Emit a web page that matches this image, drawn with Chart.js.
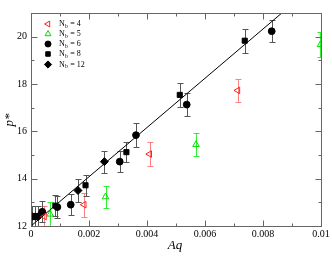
<!DOCTYPE html>
<html><head><meta charset="utf-8">
<script src="https://cdn.jsdelivr.net/npm/chart.js@4/dist/chart.umd.min.js"></script>
<style>html,body{margin:0;padding:0;background:#fff;}#wrap{width:332px;height:257px;}</style>
</head><body><div id="wrap"><canvas id="c" width="332" height="257"></canvas></div>
<script>
// ---- data ----
const nbLabels = ["4", "5", "6", "8", "12"];
const aq4 = [0.00046, 0.00183, 0.00409, 0.00713];
const p4  = [12.4, 12.9, 15.04, 17.73];
const e4  = [0.45, 0.5, 0.5, 0.49];
const aq5 = [0.00066, 0.00257, 0.00569, 0.00998];
const p5  = [12.5, 13.23, 15.44, 19.66];
const e5  = [0.5, 0.48, 0.5, 0.54];
const aq6 = [0.00005, 0.00015, 0.00039, 0.00091, 0.00137, 0.00306, 0.00362, 0.00537, 0.0083];
const p6  = [12.4, 12.4, 12.6, 12.8, 12.9, 14.72, 15.84, 17.13, 20.23];
const e6  = [0.45, 0.45, 0.45, 0.45, 0.45, 0.45, 0.5, 0.5, 0.47];
const aq8 = [0.00084, 0.00188, 0.00329, 0.00513, 0.00737];
const p8  = [12.86, 13.72, 15.12, 17.54, 19.83];
const e8  = [0.45, 0.45, 0.42, 0.5, 0.5];
const aq12 = [0.00025, 0.00162, 0.00253];
const p12  = [12.4, 13.5, 14.72];
const e12  = [0.45, 0.47, 0.47];
const fitAq = [0, 0.00865];
const fitP  = [12, 21];
const xTicks = [0, 0.002, 0.004, 0.006, 0.008, 0.01];
const yTicks = [12, 14, 16, 18, 20];

const pts = (xs, ys, es) => xs.map((x, i) => ({x: x, y: ys[i], e: es ? es[i] : 0}));

const series = [
  {label: nbLabels[0], data: pts(aq4, p4, e4), pointStyle: 'triangle', rotation: -90, borderColor: '#ff2020', backgroundColor: 'rgba(0,0,0,0)', errColor: '#ff8080', radius: 3.8},
  {label: nbLabels[1], data: pts(aq5, p5, e5), pointStyle: 'triangle', rotation: 0, borderColor: '#00dd00', backgroundColor: 'rgba(0,0,0,0)', errColor: '#33ee33', radius: 3.8},
  {label: nbLabels[2], data: pts(aq6, p6, e6), pointStyle: 'circle', rotation: 0, borderColor: '#000', backgroundColor: '#000', errColor: '#555', radius: 3.4},
  {label: nbLabels[3], data: pts(aq8, p8, e8), pointStyle: 'rect', rotation: 0, borderColor: '#000', backgroundColor: '#000', errColor: '#555', radius: 3.6},
  {label: nbLabels[4], data: pts(aq12, p12, e12), pointStyle: 'rectRot', rotation: 0, borderColor: '#000', backgroundColor: '#000', errColor: '#555', radius: 4}
];

const datasets = [{
  type: 'line', label: 'fit', data: fitAq.map((x, i) => ({x: x, y: fitP[i]})),
  borderColor: '#000', borderWidth: 1, pointRadius: 0, fill: false, order: 10
}].concat(series.map(s => ({
  type: 'scatter', label: s.label, data: s.data,
  pointStyle: s.pointStyle, rotation: s.rotation, pointRadius: s.radius,
  borderColor: s.borderColor, backgroundColor: s.backgroundColor,
  pointBorderWidth: 1, errColor: s.errColor, order: 1
})));

const serif = "'Liberation Serif', 'DejaVu Serif', serif";

const errPlugin = {
  id: 'errbars',
  beforeDatasetsDraw(chart) {
    const ctx = chart.ctx, a = chart.chartArea;
    const xs = chart.scales.x, ys = chart.scales.y;
    ctx.save();
    ctx.beginPath(); ctx.rect(a.left, a.top, a.right - a.left, a.bottom - a.top); ctx.clip();
    chart.data.datasets.forEach(ds => {
      if (!ds.errColor) return;
      ctx.strokeStyle = ds.errColor; ctx.lineWidth = 1;
      ds.data.forEach(p => {
        const px = Math.round(xs.getPixelForValue(p.x)) + 0.5;
        const y1 = Math.round(ys.getPixelForValue(p.y + p.e)) + 0.5;
        const y2 = Math.round(ys.getPixelForValue(p.y - p.e)) + 0.5;
        ctx.beginPath();
        ctx.moveTo(px, y1); ctx.lineTo(px, y2);
        ctx.moveTo(px - 3, y1); ctx.lineTo(px + 3, y1);
        ctx.moveTo(px - 3, y2); ctx.lineTo(px + 3, y2);
        ctx.stroke();
      });
    });
    ctx.restore();
  }
};

const framePlugin = {
  id: 'frame',
  afterDraw(chart) {
    const ctx = chart.ctx, a = chart.chartArea;
    const xs = chart.scales.x, ys = chart.scales.y;
    ctx.save();
    ctx.strokeStyle = '#666'; ctx.lineWidth = 1;
    const L = Math.round(a.left) + 0.5, R = Math.round(a.right) + 0.5, T = Math.round(a.top) + 0.5, B = Math.round(a.bottom) + 0.5;
    ctx.strokeRect(L, T, R - L, B - T);
    ctx.beginPath();
    for (let i = 0; i <= 10; i++) {
      const v = i * 0.001;
      const px = Math.round(xs.getPixelForValue(v)) + 0.5;
      const len = (i % 2 === 0) ? 6 : 3;
      ctx.moveTo(px, B); ctx.lineTo(px, B - len);
      ctx.moveTo(px, T); ctx.lineTo(px, T + len);
    }
    for (let v = 12; v <= 21; v++) {
      const py = Math.round(ys.getPixelForValue(v)) + 0.5;
      const len = (v % 2 === 0) ? 6 : 3;
      ctx.moveTo(L, py); ctx.lineTo(L + len, py);
      ctx.moveTo(R, py); ctx.lineTo(R - len, py);
    }
    ctx.stroke();

    // axis titles
    ctx.fillStyle = '#000';
    ctx.font = "italic 13px " + serif;
    ctx.textAlign = 'center'; ctx.textBaseline = 'alphabetic';
    ctx.fillText('Aq', 175, 249);
    ctx.save();
    ctx.translate(13, 120);
    ctx.rotate(-Math.PI / 2);
    ctx.fillText('p*', 0, 0);
    ctx.restore();

    // legend
    const lx = 48, tx = 59, rows = [24, 34, 44, 54, 64.5];
    series.forEach((s, i) => {
      const y = rows[i];
      ctx.save();
      ctx.strokeStyle = s.borderColor; ctx.fillStyle = s.backgroundColor; ctx.lineWidth = 1;
      Chart.helpers.drawPoint(ctx, {pointStyle: s.pointStyle, rotation: s.rotation, radius: s.radius - 0.4, borderWidth: 1}, lx, y);
      ctx.restore();
      ctx.fillStyle = '#000'; ctx.textAlign = 'left'; ctx.textBaseline = 'middle';
      ctx.font = "8px " + serif;
      ctx.fillText('N', tx, y);
      const w = ctx.measureText('N').width;
      ctx.font = "5.5px " + serif;
      ctx.fillText('b', tx + w + 0.3, y + 2.5);
      const wb = ctx.measureText('b').width;
      ctx.font = "8px " + serif;
      ctx.fillText(' = ' + s.label, tx + w + wb + 0.6, y);
    });
    ctx.restore();
  }
};

new Chart(document.getElementById('c'), {
  data: {datasets: datasets},
  options: {
    responsive: false, animation: false, events: [],
    layout: {padding: {left: 0, top: 13, right: 11, bottom: 0}},
    plugins: {legend: {display: false}, tooltip: {enabled: false}},
    scales: {
      x: {
        type: 'linear', min: 0, max: 0.01,
        afterBuildTicks: sc => { sc.ticks = xTicks.map(v => ({value: v})); },
        afterFit: sc => { sc.height = 31; },
        grid: {display: false, drawTicks: false}, border: {display: false},
        ticks: {color: '#000', padding: 2, maxRotation: 0, autoSkip: false,
          font: {family: serif, size: 10},
          callback: v => (v === 0 ? '0' : (v === 0.01 ? '0.01' : v.toFixed(3)))}
      },
      y: {
        type: 'linear', min: 12, max: 21,
        afterBuildTicks: sc => { sc.ticks = yTicks.map(v => ({value: v})); },
        afterFit: sc => { sc.width = 31; },
        grid: {display: false, drawTicks: false}, border: {display: false},
        ticks: {color: '#000', padding: 4, autoSkip: false,
          font: {family: serif, size: 10},
          callback: v => String(v)}
      }
    }
  },
  plugins: [errPlugin, framePlugin]
});
</script></body></html>
